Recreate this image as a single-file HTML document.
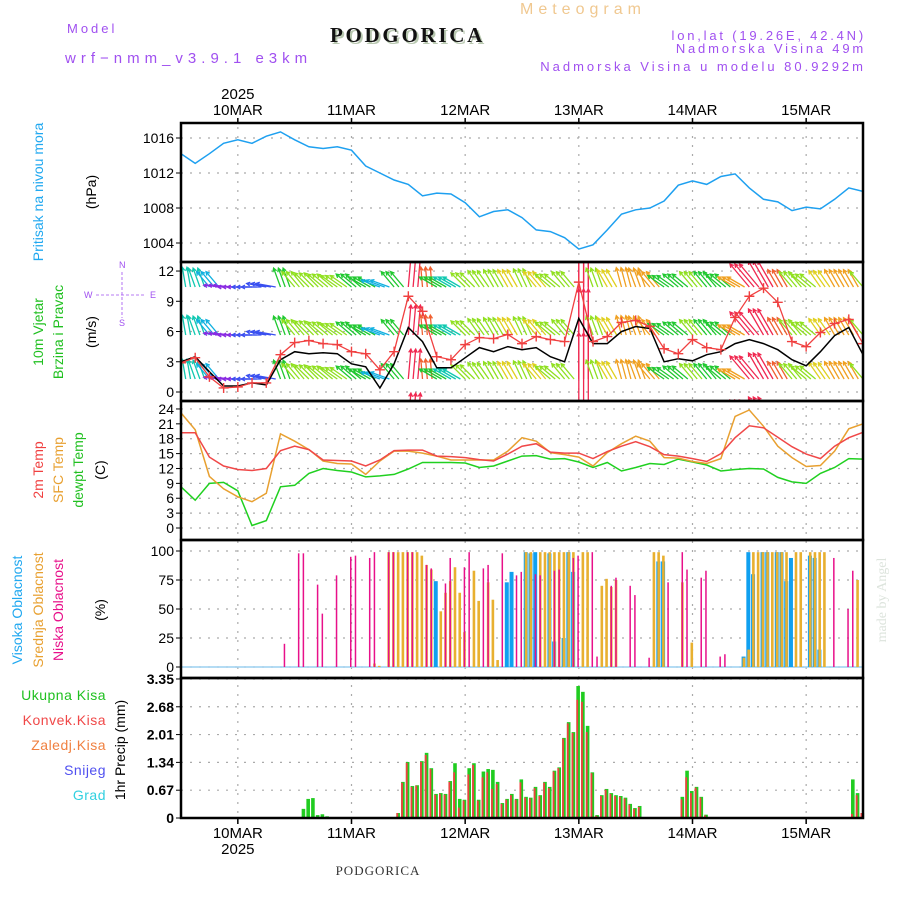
<!DOCTYPE html>
<html><head><meta charset="utf-8"><title>Meteogram Podgorica</title>
<style>
html,body{margin:0;padding:0;background:#fff;}
svg{display:block;font-family:"Liberation Sans",sans-serif;}
</style></head>
<body>
<svg id="chart" width="900" height="900" viewBox="0 0 900 900" xmlns="http://www.w3.org/2000/svg">
<rect x="0" y="0" width="900" height="900" fill="#fff"/>
<text x="67" y="33" font-size="13" fill="#a050f0" letter-spacing="3">Model</text>
<text x="65" y="63" font-size="15" fill="#a050f0" letter-spacing="5">wrf−nmm_v3.9.1 e3km</text>
<text x="332" y="44" font-size="21" font-weight="bold" font-family="Liberation Serif,serif" fill="#b8c8b0" letter-spacing="2.7">PODGORICA</text>
<text x="330" y="42" font-size="21" font-weight="bold" font-family="Liberation Serif,serif" fill="#111" letter-spacing="2.7">PODGORICA</text>
<text x="520" y="14" font-size="16" fill="#f0c890" letter-spacing="5">Meteogram</text>
<text x="866" y="40" font-size="13" fill="#a050f0" text-anchor="end" letter-spacing="2.8">lon,lat (19.26E, 42.4N)</text>
<text x="866" y="53" font-size="13" fill="#a050f0" text-anchor="end" letter-spacing="2.8">Nadmorska Visina 49m</text>
<text x="866" y="71" font-size="13" fill="#a050f0" text-anchor="end" letter-spacing="3">Nadmorska Visina u modelu 80.9292m</text>
<text x="378" y="875" font-size="13" font-family="Liberation Serif,serif" fill="#333" text-anchor="middle" letter-spacing="1">PODGORICA</text>
<text transform="translate(886,600) rotate(-90)" font-size="14" font-family="Liberation Serif,serif" fill="#dde4dd" text-anchor="middle">made by Angel</text>
<!-- left titles -->
<text transform="translate(43,192) rotate(-90)" font-size="14" fill="#20a8f0" text-anchor="middle">Pritisak na nivou mora</text>
<text transform="translate(96,192) rotate(-90)" font-size="14" fill="#000" text-anchor="middle">(hPa)</text>
<text transform="translate(43,332) rotate(-90)" font-size="14" fill="#20c020" text-anchor="middle">10m Vjetar</text>
<text transform="translate(63,332) rotate(-90)" font-size="14" fill="#20c020" text-anchor="middle">Brzina i Pravac</text>
<text transform="translate(96,332) rotate(-90)" font-size="14" fill="#000" text-anchor="middle">(m/s)</text>
<g fill="#a050f0" font-size="9">
<text x="119" y="268">N</text><text x="119" y="326">S</text>
<text x="84" y="298">W</text><text x="150" y="298">E</text>
<line x1="96" y1="295" x2="145" y2="295" stroke="#a050f0" stroke-width="0.8" stroke-dasharray="3,2"/>
<line x1="122" y1="272" x2="122" y2="318" stroke="#a050f0" stroke-width="0.8" stroke-dasharray="3,2"/>
</g>
<text transform="translate(43,470) rotate(-90)" font-size="14" fill="#f04040" text-anchor="middle">2m Temp</text>
<text transform="translate(63,470) rotate(-90)" font-size="14" fill="#e8a030" text-anchor="middle">SFC Temp</text>
<text transform="translate(83,470) rotate(-90)" font-size="14" fill="#20c020" text-anchor="middle">dewpt Temp</text>
<text transform="translate(105,470) rotate(-90)" font-size="14" fill="#000" text-anchor="middle">(C)</text>
<text transform="translate(22,610) rotate(-90)" font-size="14" fill="#20a8f0" text-anchor="middle">Visoka Oblacnost</text>
<text transform="translate(43,610) rotate(-90)" font-size="14" fill="#e8a030" text-anchor="middle">Srednja Oblacnost</text>
<text transform="translate(63,610) rotate(-90)" font-size="14" fill="#e8108a" text-anchor="middle">Niska Oblacnost</text>
<text transform="translate(105,610) rotate(-90)" font-size="14" fill="#000" text-anchor="middle">(%)</text>
<text transform="translate(125,750) rotate(-90)" font-size="14" fill="#000" text-anchor="middle">1hr Precip (mm)</text>
<g font-size="14" text-anchor="end" letter-spacing="0.5">
<text x="106" y="700" fill="#20c020">Ukupna  Kisa</text>
<text x="106" y="725" fill="#f04848">Konvek.Kisa</text>
<text x="106" y="750" fill="#f08040">Zaledj.Kisa</text>
<text x="106" y="775" fill="#5050f0">Snijeg</text>
<text x="106" y="800" fill="#30d0e0">Grad</text>
</g>
<g id="plot"></g>
</svg>
<script>
// ---- data (3-hourly, hours 0..144 from 9 MAR 12UTC) ----
const dayLabels = ["10MAR","11MAR","12MAR","13MAR","14MAR","15MAR"];
const dayHours = [12,36,60,84,108,132];
const pressure = [1014.2,1013.1,1014.2,1015.4,1015.8,1015.4,1016.2,1016.7,1015.8,1015.0,1014.8,1015.0,1014.6,1012.8,1012.0,1011.2,1010.7,1009.4,1009.7,1009.6,1008.6,1007.0,1007.6,1007.8,1006.9,1005.5,1005.3,1004.6,1003.3,1003.8,1005.5,1007.3,1007.8,1008.0,1008.8,1010.6,1011.1,1010.7,1011.6,1011.9,1010.3,1009.0,1008.7,1007.7,1008.1,1007.9,1009.0,1010.3,1009.9];
const pressureTicks = [1004,1008,1012,1016];
const windSpeed = [2.9,3.4,1.5,0.4,0.5,0.9,0.9,3.7,4.9,5.1,4.8,4.7,4.0,3.8,2.2,4.0,9.5,8.0,3.5,3.2,4.7,5.4,5.3,5.7,4.8,5.5,5.2,5.0,10.9,5.0,5.5,6.9,7.1,6.5,4.3,3.8,5.2,4.4,4.2,7.4,9.5,10.3,8.9,5.0,4.5,5.9,6.8,7.2,4.8];
const windMean = [3.0,3.5,2.0,0.6,0.6,0.9,0.7,3.2,4.0,3.8,3.9,3.8,2.8,2.5,0.4,2.8,6.4,5.0,2.4,2.4,3.4,4.4,4.0,4.5,4.2,4.4,3.5,3.0,7.3,4.8,4.8,6.0,6.5,6.3,3.0,3.3,3.1,3.7,4.0,4.8,5.2,4.8,4.2,3.2,2.6,4.0,5.6,6.4,3.7];
const windDir = [350,340,320,275,270,270,280,340,320,315,310,305,310,300,290,320,5,355,300,300,315,325,330,330,335,320,310,320,0,340,330,345,340,320,305,310,320,320,310,300,320,330,330,320,310,325,330,330,320];
const windTicks = [0,3,6,9,12];
const temp2m = [19.2,19.2,14.3,12.5,11.8,11.6,12.0,15.6,16.5,15.8,13.7,13.6,13.5,12.5,13.7,15.6,15.7,15.7,14.5,14.4,14.2,13.8,13.5,14.9,16.5,17.0,15.3,15.1,15.1,14.0,15.4,16.5,17.4,16.4,14.8,14.5,14.0,13.4,15.0,18.2,20.6,20.2,18.3,16.4,14.9,14.0,16.5,18.2,19.3];
const tempSfc = [23.2,19.8,10.4,7.9,6.3,5.3,7.0,19.0,17.5,15.8,13.5,13.0,12.9,10.8,13.5,15.5,15.5,15.1,14.5,13.7,13.7,13.7,13.7,15.5,18.2,17.5,15.2,14.8,14.3,12.5,15.2,17.0,18.5,17.5,14.2,14.1,13.4,13.0,14.0,22.5,23.8,20.5,16.5,14.2,12.4,12.6,15.5,20.0,21.0];
const tempDew = [8.3,5.6,9.0,9.2,7.5,0.5,1.5,8.3,8.6,11.0,12.0,11.6,11.3,10.3,10.5,10.8,11.9,13.2,13.2,13.2,13.1,12.2,12.5,13.5,14.5,14.6,13.9,14.0,13.3,12.2,13.2,11.5,12.2,13.0,12.8,13.9,13.3,12.7,11.5,11.8,12.0,11.9,10.2,9.3,9.0,11.0,12.2,14.0,13.9];
const tempTicks = [0,3,6,9,12,15,18,21,24];
// cloud (hourly; hour index + value %)
const lowHours = [22,25,26,29,30,33,36,37,40,41,44,45,48,49,52,53,56,57,60,61,64,65,68,71,72,75,76,79,80,83,84,87,88,91,92,95,96,99,103,106,107,110,111,114,115,138,141,142];
const lowValues = [20,98,98,71,46,79,95,96,94,99,99,99,99,99,88,85,72,94,86,99,85,88,98,79,82,80,79,83,84,94,96,99,9,70,77,70,62,8,73,99,84,77,83,9,11,94,50,83];
const midHours = [41,42,44,45,46,47,48,49,50,51,52,53,55,56,57,58,59,60,62,63,65,66,67,73,74,76,77,78,79,80,81,82,83,85,86,89,90,91,92,100,101,102,106,108,119,120,121,122,123,124,125,126,127,128,130,131,133,134,135,136,143];
const midValues = [3,1,99,99,99,99,99,99,99,96,88,84,48,64,74,86,64,30,83,57,73,58,6,99,99,99,99,99,99,99,99,99,99,99,99,70,76,69,75,99,99,96,73,21,8,15,99,99,99,99,99,99,99,99,99,99,99,99,99,99,75];
const highHours = [54,69,70,73,74,75,78,79,81,82,83,101,102,119,120,121,123,124,126,127,128,129,133,134,135];
const highValues = [74,73,82,99,98,99,98,22,25,99,82,91,91,9,99,80,99,99,99,99,74,94,96,94,15];
const cloudTicks = [0,25,50,75,100];
// precipitation (hourly; hour index + mm)
const precipHours = [26,27,28,29,30,31,46,47,48,49,50,51,52,53,54,55,56,57,58,59,60,61,62,63,64,65,66,67,68,69,70,71,72,73,74,75,76,77,78,79,80,81,82,83,84,85,86,87,88,89,90,91,92,93,94,95,96,97,106,107,108,109,110,111,142,143,144];
const precipTotal = [0.22,0.46,0.48,0.07,0.09,0.04,0.12,0.87,1.35,0.77,0.79,1.37,1.57,1.20,0.58,0.60,0.58,0.89,1.32,0.46,0.44,1.20,1.32,0.44,1.12,1.18,1.16,0.87,0.36,0.46,0.58,0.46,0.93,0.51,0.49,0.75,0.55,0.87,0.75,1.14,1.22,1.93,2.31,2.07,3.18,3.04,2.22,1.10,0.07,0.55,0.70,0.60,0.55,0.53,0.49,0.34,0.24,0.29,0.51,1.14,0.65,0.75,0.51,0.08,0.93,0.60,0.12];
const precipConv = [0,0,0,0,0,0,0.12,0.85,1.33,0.75,0.78,1.35,1.52,1.18,0.56,0.58,0.56,0.87,1.10,0.25,0.42,1.05,1.28,0.42,0.98,1.10,0.70,0.82,0.34,0.44,0.55,0.44,0.86,0.49,0.47,0.72,0.53,0.85,0.72,1.12,1.20,1.91,2.28,2.05,2.85,2.80,2.07,1.08,0.05,0.53,0.68,0.58,0.53,0.51,0.47,0.32,0.22,0.27,0.45,0.98,0.60,0.73,0.49,0.06,0.10,0.55,0.12];
const precipTicks = ["0","0.67","1.34","2.01","2.68","3.35"];

// ---- scales ----
const X0=181, X1=863, HMAX=144, STEP=3;
const xh = h => X0 + h*(X1-X0)/HMAX;
const yP = p => 138 + (1016-p)*8.75;
const yW = s => 392 - s*10.08;
const yT = t => 528 - t*4.96;
const yC = v => 667 - v*1.16;
const yR = v => 818 - v*41.5;
const panels = [[123,262],[262,401],[401,540],[540,678],[678,818]];

const NS="http://www.w3.org/2000/svg";
const plot=document.getElementById('plot');
function mk(tag, attrs, parent){
  const e=document.createElementNS(NS,tag);
  for(const k in attrs) e.setAttribute(k,attrs[k]);
  (parent||plot).appendChild(e);
  return e;
}
function txt(x,y,s,attrs,parent){
  const e=mk('text',Object.assign({x:x,y:y},attrs),parent);
  e.textContent=s; return e;
}
const defs=mk('defs',{});
panels.forEach((p,i)=>{
  const c=mk('clipPath',{id:'clip'+i},defs);
  mk('rect',{x:X0,y:p[0],width:X1-X0,height:p[1]-p[0]},c);
});

// grids
const grid=mk('g',{stroke:'#aaa','stroke-width':1.2,'stroke-dasharray':'2,7'});


dayHours.forEach(h=>{
  const l=mk('line',{x1:xh(h),x2:xh(h),y1:118,y2:823},grid);
  
  
});
function hgrid(y){
  const l=mk('line',{x1:X0,x2:X1,y1:y,y2:y},grid);
  
  
}
pressureTicks.forEach(v=>hgrid(yP(v)));
windTicks.forEach(v=>hgrid(yW(v)));
tempTicks.forEach(v=>hgrid(yT(v)));
cloudTicks.forEach(v=>hgrid(yC(v)));
precipTicks.forEach(v=>hgrid(yR(parseFloat(v))));

function yLabel(y,s,bold){
  const t=txt(174,y+5,s,{'font-size':14,'text-anchor':'end',fill:'#000','font-weight':bold?'bold':'normal'});
  
  
  const tk=mk('line',{x1:X0-5,x2:X0,y1:y,y2:y,stroke:'#000','stroke-width':1});
  
  
}
pressureTicks.forEach(v=>yLabel(yP(v),String(v)));
windTicks.forEach(v=>yLabel(yW(v),String(v)));
tempTicks.forEach(v=>yLabel(yT(v),String(v)));
cloudTicks.forEach(v=>yLabel(yC(v),String(v)));
precipTicks.forEach(v=>yLabel(yR(parseFloat(v)),v,true));
dayHours.forEach((h,i)=>{
  const a=txt(xh(h),115,dayLabels[i],{'font-size':15,'text-anchor':'middle',fill:'#000'});
  
  
  const b=txt(xh(h),838,dayLabels[i],{'font-size':15,'text-anchor':'middle',fill:'#000'});
  
  
  [[118,123],[818,824]].forEach(r=>{
    const tk=mk('line',{x1:xh(h),x2:xh(h),y1:r[0],y2:r[1],stroke:'#000','stroke-width':1.5});
    
    
  });
});
const yr1=txt(xh(dayHours[0]),99,'2025',{'font-size':15,'text-anchor':'middle',fill:'#000'});


const yr2=txt(xh(dayHours[0]),854,'2025',{'font-size':15,'text-anchor':'middle',fill:'#000'});



function linePts(arr,yf){ return arr.map((v,i)=>xh(i*STEP).toFixed(1)+','+yf(v).toFixed(1)).join(' '); }

// pressure
const pl=mk('polyline',{points:linePts(pressure,yP),fill:'none',stroke:'#1ea0f0','stroke-width':1.5,'clip-path':'url(#clip0)'});



// wind arrows
function windColor(s){
  if(s<0.8) return '#8a2be2';
  if(s<1.5) return '#3a50f0';
  if(s<2.5) return '#10b0e0';
  if(s<3.5) return '#10c8b0';
  if(s<4.5) return '#20c830';
  if(s<5.5) return '#90e020';
  if(s<6.5) return '#e0d020';
  if(s<8) return '#f0a020';
  if(s<9.5) return '#f06030';
  return '#f02850';
}
const wg=mk('g',{'clip-path':'url(#clip1)','stroke-width':1.3,fill:'none'});


const rowBases=[287,335,379,423];
windDir.forEach((d,i)=>{
  const s=windSpeed[i], col=windColor(s);
  const L=s>10.5?90:(s>9.4?30:20);
  const a=d*Math.PI/180;
  for(let k=0;k<STEP;k++){
    const h=i*STEP+k; if(h>HMAX) break;
    const x=xh(h);
    rowBases.forEach(b=>{
      const x2=x+L*Math.sin(a), y2=b-L*Math.cos(a);
      const ar=mk('path',{d:`M${x.toFixed(1)},${b} L${x2.toFixed(1)},${y2.toFixed(1)} M${(x2-4*Math.sin(a-0.5)).toFixed(1)},${(y2+4*Math.cos(a-0.5)).toFixed(1)} L${x2.toFixed(1)},${y2.toFixed(1)} L${(x2-4*Math.sin(a+0.5)).toFixed(1)},${(y2+4*Math.cos(a+0.5)).toFixed(1)}`,stroke:col},wg);
      
      
    });
  }
});
const wm=mk('polyline',{points:linePts(windMean,yW),fill:'none',stroke:'#000','stroke-width':1.5,'clip-path':'url(#clip1)'});


const ws=mk('polyline',{points:linePts(windSpeed,yW),fill:'none',stroke:'#f04040','stroke-width':1.3,'clip-path':'url(#clip1)'});


windSpeed.forEach((v,i)=>{
  const x=xh(i*STEP), y=yW(v);
  const m=mk('path',{d:`M${x-5},${y} h10 M${x},${y-5} v10`,stroke:'#f04040','stroke-width':1.4,'clip-path':'url(#clip1)'});
  
  
});

// temperature
[[tempDew,'#20d020','dewpoint-line'],[tempSfc,'#e8a030','sfc-temp-line'],[temp2m,'#f04848','temp-2m-line']].forEach(s=>{
  const l=mk('polyline',{points:linePts(s[0],yT),fill:'none',stroke:s[1],'stroke-width':1.5,'clip-path':'url(#clip2)'});
  
  
});

// cloud
const cb=mk('line',{x1:X0,x2:X1,y1:yC(0),y2:yC(0),stroke:'#9cd0f0','stroke-width':1.5});


highHours.forEach((h,i)=>{
  const r=mk('rect',{x:xh(h)-3,y:yC(highValues[i]),width:4,height:yC(0)-yC(highValues[i]),fill:'#10a0f0'});
  
  
});
midHours.forEach((h,i)=>{
  const r=mk('rect',{x:xh(h)-2,y:yC(midValues[i]),width:2.6,height:yC(0)-yC(midValues[i]),fill:'#e8b030'});
  
  
});
lowHours.forEach((h,i)=>{
  const r=mk('rect',{x:xh(h)-1.5,y:yC(lowValues[i]),width:1.5,height:yC(0)-yC(lowValues[i]),fill:'#e8108a'});
  
  
});

// precip
precipHours.forEach((h,i)=>{
  const g=mk('rect',{x:xh(h)-2.5,y:yR(precipTotal[i]),width:3.6,height:yR(0)-yR(precipTotal[i]),fill:'#20cc20'});
  
  
  if(precipConv[i]>0){
    const r=mk('rect',{x:xh(h)-2.5,y:yR(precipConv[i]),width:1.8,height:yR(0)-yR(precipConv[i]),fill:'#f04040'});
    
    
  }
});
[678,818].forEach(y=>{
  const l=mk('line',{x1:X0,x2:X1,y1:y,y2:y,stroke:'#000','stroke-width':1.5,'stroke-dasharray':'5,2'});
  
  
});

// panel frames
panels.forEach((p,i)=>{
  const f=mk('rect',{x:X0,y:p[0],width:X1-X0,height:p[1]-p[0],fill:'none',stroke:'#000','stroke-width':2.5});
  
  
});
</script>
</body></html>
